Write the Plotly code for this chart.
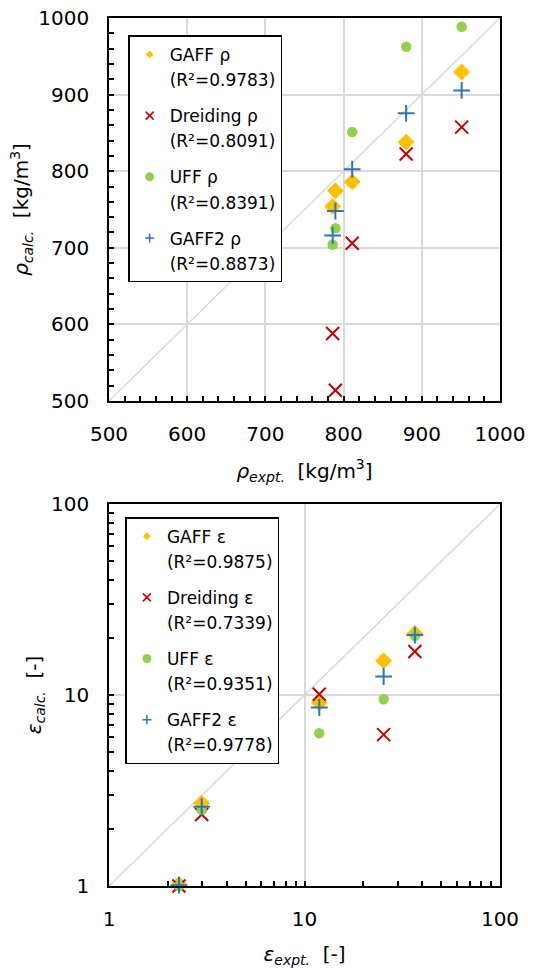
import plotly.graph_objects as go

# ---------------- data ----------------
series_names = ["GAFF", "Dreiding", "UFF", "GAFF2"]
r2_rho = ["0.9783", "0.8091", "0.8391", "0.8873"]
r2_eps = ["0.9875", "0.7339", "0.9351", "0.9778"]

rho_expt = [786, 789.5, 811, 880, 951]
rho_gaff = [754, 774.5, 786, 838, 929.5]
rho_dreiding = [588, 514, 706, 822.5, 857.5]
rho_uff = [704, 725.5, 851, 962.5, 988.5]
rho_gaff2 = [716, 748, 802.5, 875.5, 905.5]

eps_expt = [2.28, 2.98, 11.9, 25.4, 36.7]
eps_gaff = [1.02, 2.71, 9.1, 15.1, 21.0]
eps_dreiding = [1.0, 2.37, 10.1, 6.2, 16.9]
eps_uff = [1.0, 2.5, 6.3, 9.5, 20.4]
eps_gaff2 = [1.01, 2.6, 8.6, 12.5, 20.6]

rho_range = [500, 1000]
rho_ticks = [500, 600, 700, 800, 900, 1000]
eps_range = [1, 100]
eps_ticks = [1, 10, 100]
eps_minor_ticks = [2, 3, 4, 5, 6, 7, 8, 9, 20, 30, 40, 50, 60, 70, 80, 90]

# ---------------- styles ----------------
FONT = "DejaVu Sans"
styles = [
    dict(symbol="diamond", color="#FFC000", size=13, line=dict(width=0)),
    dict(symbol="x-thin-open", color="#C00000", size=13, line=dict(width=2, color="#C00000")),
    dict(symbol="circle", color="#92D050", size=10.5, line=dict(width=0)),
    dict(symbol="cross-thin-open", color="#2E75B6", size=12, line=dict(width=2, color="#2E75B6")),
]
legend_styles = [
    dict(symbol="diamond", color="#FFC000", size=6, line=dict(width=0)),
    dict(symbol="x-thin-open", color="#C00000", size=8, line=dict(width=1.5, color="#C00000")),
    dict(symbol="circle", color="#92D050", size=9, line=dict(width=0)),
    dict(symbol="cross-thin-open", color="#2E75B6", size=6.5, line=dict(width=1.5, color="#2E75B6")),
]
GRID = "#D9D9D9"

fig = go.Figure()

# diagonal reference lines
fig.add_trace(go.Scatter(x=rho_range, y=rho_range, mode="lines",
                         line=dict(color=GRID, width=1.5), showlegend=False,
                         hoverinfo="skip", xaxis="x", yaxis="y"))
fig.add_trace(go.Scatter(x=eps_range, y=eps_range, mode="lines",
                         line=dict(color=GRID, width=1.5), showlegend=False,
                         hoverinfo="skip", xaxis="x2", yaxis="y2"))

rho_sets = [rho_gaff, rho_dreiding, rho_uff, rho_gaff2]
eps_sets = [eps_gaff, eps_dreiding, eps_uff, eps_gaff2]


def add_legend_entry(legend, group, xa, ya, style, line1, line2):
    fig.add_trace(go.Scatter(x=[None], y=[None], mode="markers", marker=style,
                             legend=legend, legendgroup=group, name=line1,
                             xaxis=xa, yaxis=ya))
    fig.add_trace(go.Scatter(x=[None], y=[None], mode="markers",
                             marker=dict(color="rgba(0,0,0,0)", size=1),
                             legend=legend, legendgroup=group, name=line2,
                             xaxis=xa, yaxis=ya))


for i, name in enumerate(series_names):
    # top chart
    fig.add_trace(go.Scatter(x=rho_expt, y=rho_sets[i], mode="markers",
                             marker=styles[i], showlegend=False, cliponaxis=False,
                             legendgroup="r%d" % i, xaxis="x", yaxis="y"))
    add_legend_entry("legend", "r%d" % i, "x", "y", legend_styles[i],
                     "%s ρ" % name, "(R²=%s)" % r2_rho[i])
    # bottom chart
    fig.add_trace(go.Scatter(x=eps_expt, y=eps_sets[i], mode="markers",
                             marker=styles[i], showlegend=False, cliponaxis=False,
                             legendgroup="e%d" % i, xaxis="x2", yaxis="y2"))
    add_legend_entry("legend2", "e%d" % i, "x2", "y2", legend_styles[i],
                     "%s ε" % name, "(R²=%s)" % r2_eps[i])

axis_common = dict(
    showline=True, linecolor="black", linewidth=1.5, mirror=True,
    ticks="inside", ticklen=5, tickwidth=1.5, tickcolor="black",
    showgrid=True, gridcolor=GRID, gridwidth=1.5,
    zeroline=False, automargin=False, ticklabeloverflow="allow",
    tickfont=dict(family=FONT, size=20, color="black"),
)
title_font = dict(family=FONT, size=20, color="black")

lin_minor = dict(dtick=20, ticks="inside", ticklen=5, tickwidth=1.5,
                 tickcolor="black", showgrid=False)
log_minor = dict(tickvals=eps_minor_ticks, ticks="inside", ticklen=5, tickwidth=1.5,
                 tickcolor="black", showgrid=False)

legend_common = dict(xanchor="left", yanchor="top",
                     bgcolor="white", bordercolor="black", borderwidth=1.5,
                     font=dict(family=FONT, size=17, color="black"),
                     traceorder="grouped", tracegroupgap=11, valign="middle")

fig.update_layout(
    width=544, height=968,
    paper_bgcolor="white", plot_bgcolor="white",
    margin=dict(l=109, r=44, t=18, b=82),
    font=dict(family=FONT, color="black"),
    xaxis=dict(axis_common, domain=[0, 1], anchor="y", range=rho_range,
               tickvals=rho_ticks, minor=lin_minor, ticklabelstandoff=14,
               title=dict(text="<i>ρ</i><sub><i>expt.</i></sub>  [kg/m<sup>3</sup>]",
                          font=title_font, standoff=19)),
    yaxis=dict(axis_common, domain=[0.5588, 1], anchor="x", range=rho_range,
               tickvals=rho_ticks, minor=lin_minor, ticklabelstandoff=14,
               title=dict(text="<i>ρ</i><sub><i>calc.</i></sub>  [kg/m<sup>3</sup>]",
                          font=title_font, standoff=4)),
    xaxis2=dict(axis_common, domain=[0, 1], anchor="y2", type="log",
                range=[0, 2], tickvals=eps_ticks, ticktext=[str(v) for v in eps_ticks],
                minor=log_minor, ticklabelstandoff=14,
                title=dict(text="<i>ε</i><sub><i>expt.</i></sub>  [-]",
                           font=title_font, standoff=24)),
    yaxis2=dict(axis_common, domain=[0, 0.4401], anchor="x2", type="log",
                range=[0, 2], tickvals=eps_ticks, ticktext=[str(v) for v in eps_ticks],
                minor=log_minor, ticklabelstandoff=14,
                title=dict(text="<i>ε</i><sub><i>calc.</i></sub>  [-]",
                           font=title_font, standoff=4)),
    legend=dict(legend_common, x=0.049, y=0.98),
    legend2=dict(legend_common, x=0.042, y=0.425),
)

# remove the default page margin so the figure fills the window exactly
fig.write_html("out.html",
               config={"displayModeBar": False},
               post_script="document.body.style.margin='0';document.body.style.overflow='hidden';")
